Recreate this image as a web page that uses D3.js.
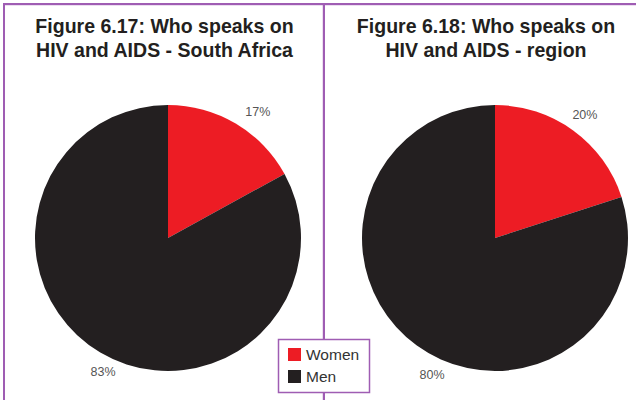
<!DOCTYPE html>
<html><head><meta charset="utf-8">
<script src="https://cdn.jsdelivr.net/npm/d3@7/dist/d3.min.js"></script>
<style>body{margin:0;background:#fff}svg{display:block}</style>
</head><body>
<script>
// ---- data ----
const categories = ["Women", "Men"];
const southAfricaValues = [17, 83];
const regionValues = [20, 80];
const titlesSA = ["Figure 6.17: Who speaks on", "HIV and AIDS - South Africa"];
const titlesRegion = ["Figure 6.18: Who speaks on", "HIV and AIDS - region"];
const colors = ["#ED1C24", "#231F20"];

const W = 636, H = 400, purple = "#9f5db3";
const svg = d3.select("body").append("svg").attr("width", W).attr("height", H);

// frame
svg.append("rect").attr("x", 3).attr("y", 3).attr("width", 2).attr("height", H).attr("fill", purple);
svg.append("rect").attr("x", 3).attr("y", 3).attr("width", W).attr("height", 2.2).attr("fill", purple);
svg.append("rect").attr("x", 322.8).attr("y", 3).attr("width", 2.2).attr("height", H).attr("fill", purple);

const color = d3.scaleOrdinal().domain(categories).range(colors);
const pie = d3.pie().sort(null).value(d => d.v);
const R = 133;
const arc = d3.arc().innerRadius(0).outerRadius(R);

function drawChart(cx, cy, tx, titles, values, nudges) {
  const g = svg.append("g");
  titles.forEach((t, i) => {
    const el = g.append("text").attr("x", tx).attr("y", 33 + i * 24)
      .attr("text-anchor", "middle")
      .attr("font-family", "'Liberation Sans',Arial,sans-serif")
      .attr("font-weight", "bold").attr("font-size", 21).attr("fill", "#231F20").text(t);
    const len = el.node().getComputedTextLength();
    el.attr("textLength", len * 0.93).attr("lengthAdjust", "spacingAndGlyphs");
  });
  const data = pie(categories.map((c, i) => ({ c, v: values[i] })));
  const pg = g.append("g").attr("transform", `translate(${cx},${cy})`);
  pg.selectAll("path").data(data).join("path").attr("d", arc).attr("fill", d => color(d.data.c));
  const LR = 153;
  pg.selectAll("text").data(data).join("text")
    .attr("x", (d, i) => LR * Math.sin((d.startAngle + d.endAngle) / 2) + nudges[i][0])
    .attr("y", (d, i) => -LR * Math.cos((d.startAngle + d.endAngle) / 2) + nudges[i][1])
    .attr("text-anchor", "middle").attr("dy", "0.35em")
    .attr("font-family", "'Liberation Sans',Arial,sans-serif").attr("font-size", 12.5)
    .attr("fill", "#555").text(d => d.data.v + "%");
}

drawChart(168, 238, 164.5, titlesSA, southAfricaValues, [[12, 5], [13, 2]]);
drawChart(495, 238, 486, titlesRegion, regionValues, [[0, 0], [27, 13]]);

// legend
const lg = svg.append("g");
lg.append("rect").attr("x", 278.5).attr("y", 339.5).attr("width", 91).attr("height", 53)
  .attr("fill", "#fff").attr("stroke", purple).attr("stroke-width", 1.5);
categories.forEach((c, i) => {
  lg.append("rect").attr("x", 288).attr("y", 348 + i * 22).attr("width", 13).attr("height", 13).attr("fill", color(c));
  lg.append("text").attr("x", 306).attr("y", 360 + i * 22)
    .attr("font-family", "'Liberation Sans',Arial,sans-serif").attr("font-size", 15.5)
    .attr("fill", "#333").text(c);
});
</script>
</body></html>
